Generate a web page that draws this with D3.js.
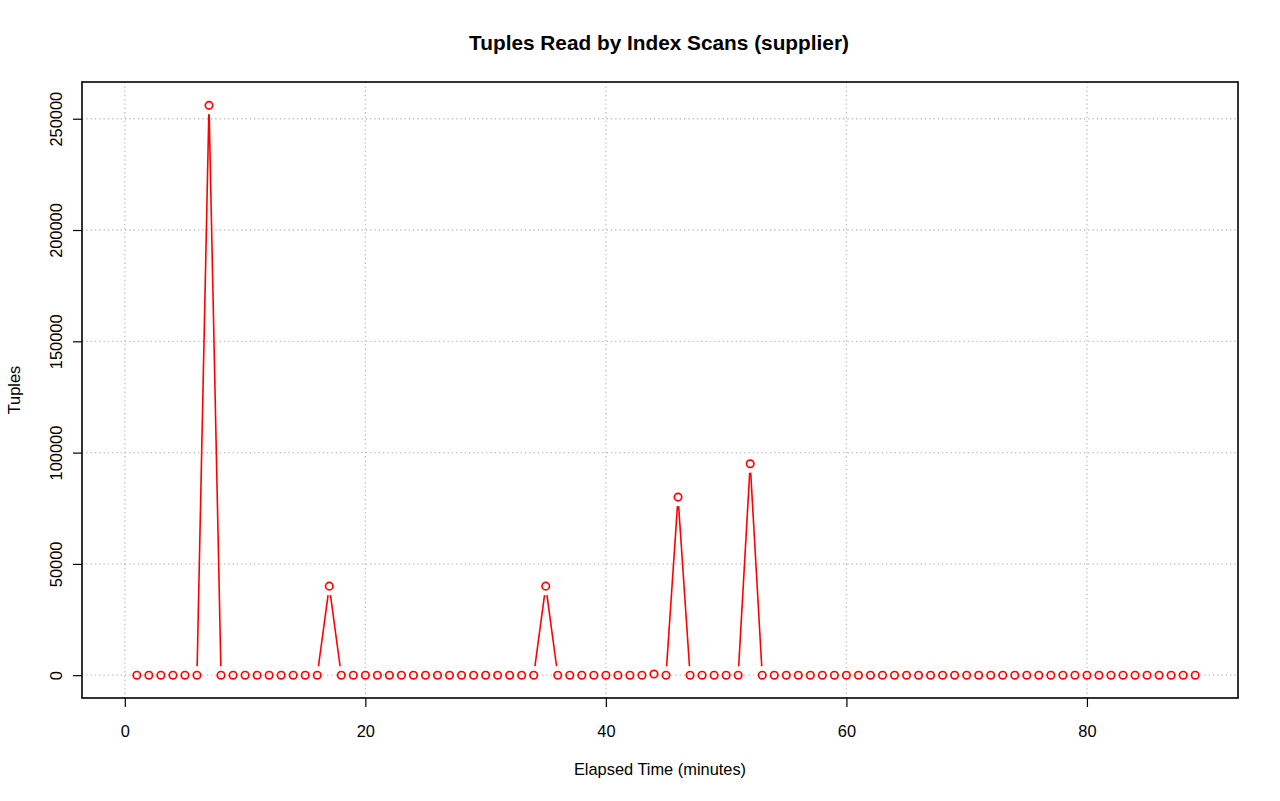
<!DOCTYPE html>
<html><head><meta charset="utf-8">
<script src="https://cdn.jsdelivr.net/npm/d3@7"></script>
<style>body{margin:0;background:#fff}svg{display:block;font-family:"Liberation Sans",Arial,sans-serif}</style>
</head><body>
<svg id="c" width="1280" height="801"></svg>
<script>
const minutes = d3.range(1, 90);
const tuples = [
  0,0,0,0,0,0,256000,0,0,0,
  0,0,0,0,0,0,40000,0,0,0,
  0,0,0,0,0,0,0,0,0,0,
  0,0,0,0,40000,0,0,0,0,0,
  0,0,0,500,0,80000,0,0,0,0,
  0,95000,0,0,0,0,0,0,0,0,
  0,0,0,0,0,0,0,0,0,0,
  0,0,0,0,0,0,0,0,0,0,
  0,0,0,0,0,0,0,0,0
];
const xTicks = [0,20,40,60,80];
const yTicks = [0,50000,100000,150000,200000,250000];
const title = "Tuples Read by Index Scans (supplier)";
const xLabel = "Elapsed Time (minutes)";
const yLabel = "Tuples";

const svg = d3.select("#c");
const L=82,R=1238,T=82,B=698;
const x = d3.scaleLinear().domain([-3.56,92.56]).range([L,R]);
const y = d3.scaleLinear().domain([-10250,266500]).range([B,T]);
const data = minutes.map((m,i)=>({x:m,y:tuples[i]}));
const FS = 16.4;

// grid
const g = svg.append("g");
g.selectAll(".gx").data(xTicks).join("line")
  .attr("x1",d=>x(d)).attr("x2",d=>x(d)).attr("y1",T).attr("y2",B)
  .attr("stroke","#bdbdbd").attr("stroke-dasharray","1.3,3").attr("stroke-width",1.3);
g.selectAll(".gy").data(yTicks).join("line")
  .attr("y1",d=>y(d)).attr("y2",d=>y(d)).attr("x1",L).attr("x2",R)
  .attr("stroke","#bdbdbd").attr("stroke-dasharray","1.3,3").attr("stroke-width",1.3);

// axes
const xa = svg.append("g").attr("transform",`translate(0,${B})`)
  .call(d3.axisBottom(x).tickValues(xTicks).tickSize(9).tickFormat(d3.format("d")));
const ya = svg.append("g").attr("transform",`translate(${L},0)`)
  .call(d3.axisLeft(y).tickValues(yTicks).tickSize(9).tickFormat(d3.format("d")));
[xa,ya].forEach(a=>{a.select(".domain").remove();a.selectAll("line").attr("stroke","#000").attr("stroke-width",1.2);
  a.selectAll("text").attr("font-size",FS).attr("fill","#000").attr("font-family","Liberation Sans, Arial, sans-serif");});
xa.selectAll("text").attr("y",39).attr("dy",0);
ya.selectAll("text").attr("text-anchor","middle").attr("dy",0).attr("x",0).attr("y",0)
  .attr("transform","translate(-20,0) rotate(-90)");

svg.append("rect").attr("x",L).attr("y",T).attr("width",R-L).attr("height",B-T)
  .attr("fill","none").attr("stroke","#000").attr("stroke-width",1.6);

// line segments with gaps (type="b")
const gap = 9;
const segs = [];
for (let i=0;i<data.length-1;i++){
  const x1=x(data[i].x),y1=y(data[i].y),x2=x(data[i+1].x),y2=y(data[i+1].y);
  const dx=x2-x1,dy=y2-y1,len=Math.hypot(dx,dy);
  if(len>2*gap){const ux=dx/len,uy=dy/len;
    segs.push([x1+ux*gap,y1+uy*gap,x2-ux*gap,y2-uy*gap]);}
}
svg.append("g").selectAll("line").data(segs).join("line")
  .attr("x1",d=>d[0]).attr("y1",d=>d[1]).attr("x2",d=>d[2]).attr("y2",d=>d[3])
  .attr("stroke","#ff0000").attr("stroke-width",1.6);
svg.append("g").selectAll("circle").data(data).join("circle")
  .attr("cx",d=>x(d.x)).attr("cy",d=>y(d.y)).attr("r",3.7)
  .attr("fill","none").attr("stroke","#ff0000").attr("stroke-width",1.7);

svg.append("text").attr("x",659).attr("y",50).attr("text-anchor","middle")
  .attr("font-size",20.8).attr("font-weight","bold").text(title);
svg.append("text").attr("x",(L+R)/2).attr("y",775).attr("text-anchor","middle")
  .attr("font-size",FS).text(xLabel);
svg.append("text").attr("transform",`translate(20,${(T+B)/2}) rotate(-90)`).attr("text-anchor","middle")
  .attr("font-size",FS).text(yLabel);
</script>
</body></html>
